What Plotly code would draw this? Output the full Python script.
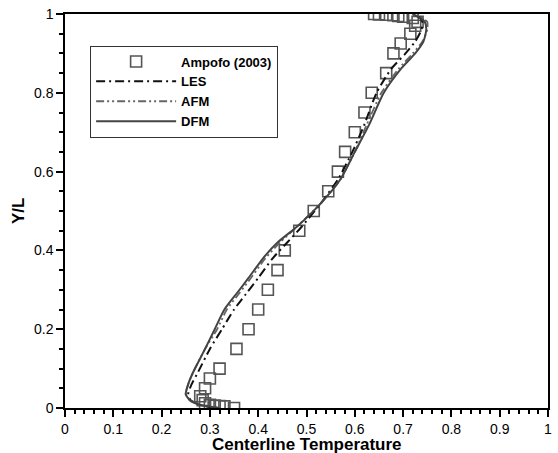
import plotly.graph_objects as go

# Experimental centerline temperature profile (Ampofo 2003)
amp_t = [0.35, 0.33, 0.32, 0.31, 0.30, 0.29, 0.285, 0.28, 0.29, 0.30, 0.32, 0.355, 0.38,
         0.40, 0.42, 0.44, 0.455, 0.485, 0.515, 0.545, 0.565, 0.58, 0.60, 0.62, 0.635,
         0.665, 0.68, 0.695, 0.715, 0.725, 0.73, 0.72, 0.70, 0.69, 0.68, 0.665, 0.65, 0.64]
amp_y = [0.0, 0.004, 0.005, 0.006, 0.008, 0.012, 0.02, 0.03, 0.05, 0.075, 0.10, 0.15, 0.20,
         0.25, 0.30, 0.35, 0.40, 0.45, 0.50, 0.55, 0.60, 0.65, 0.70, 0.75, 0.80,
         0.85, 0.90, 0.925, 0.95, 0.97, 0.98, 0.99, 0.993, 0.995, 0.997, 0.998, 0.999, 1.0]

# Model predictions
les_t = [0.31, 0.28, 0.26, 0.255, 0.262, 0.275, 0.30, 0.325, 0.35, 0.375, 0.40, 0.43, 0.46,
         0.49, 0.53, 0.565, 0.595, 0.62, 0.645, 0.675, 0.705, 0.725, 0.738, 0.74, 0.735, 0.72]
les_y = [0.0, 0.008, 0.02, 0.035, 0.06, 0.09, 0.15, 0.20, 0.25, 0.29, 0.33, 0.38, 0.42,
         0.46, 0.52, 0.58, 0.65, 0.72, 0.80, 0.86, 0.90, 0.93, 0.96, 0.98, 0.99, 1.0]

afm_t = [0.32, 0.28, 0.26, 0.25, 0.255, 0.265, 0.29, 0.315, 0.335, 0.36, 0.385, 0.415, 0.445,
         0.48, 0.53, 0.57, 0.60, 0.625, 0.655, 0.69, 0.72, 0.74, 0.75, 0.75, 0.74, 0.725]
afm_y = [0.0, 0.008, 0.02, 0.035, 0.06, 0.09, 0.15, 0.20, 0.25, 0.29, 0.33, 0.38, 0.42,
         0.46, 0.52, 0.58, 0.65, 0.72, 0.80, 0.86, 0.90, 0.93, 0.96, 0.98, 0.99, 1.0]

dfm_t = [0.32, 0.28, 0.258, 0.25, 0.255, 0.265, 0.29, 0.31, 0.33, 0.355, 0.38, 0.41, 0.44,
         0.48, 0.53, 0.57, 0.60, 0.63, 0.66, 0.695, 0.725, 0.742, 0.748, 0.745, 0.735, 0.72]
dfm_y = [0.0, 0.008, 0.02, 0.035, 0.06, 0.09, 0.15, 0.20, 0.25, 0.29, 0.33, 0.38, 0.42,
         0.46, 0.52, 0.58, 0.65, 0.72, 0.80, 0.86, 0.90, 0.93, 0.96, 0.98, 0.99, 1.0]

FONT = "Arial, Liberation Sans"

fig = go.Figure()
fig.add_trace(go.Scatter(x=amp_t, y=amp_y, mode="markers", name="<b>Ampofo (2003)</b>",
                         marker=dict(symbol="square-open", size=11, color="#555555",
                                     line=dict(width=1.6, color="#555555"))))
fig.add_trace(go.Scatter(x=les_t, y=les_y, mode="lines", name="<b>LES</b>",
                         line=dict(color="#111111", width=2, dash="9px,4px,2px,4px",
                                   shape="spline", smoothing=0.6)))
fig.add_trace(go.Scatter(x=afm_t, y=afm_y, mode="lines", name="<b>AFM</b>",
                         line=dict(color="#666666", width=1.8,
                                   dash="8px,3px,2px,3px,2px,3px",
                                   shape="spline", smoothing=0.6)))
fig.add_trace(go.Scatter(x=dfm_t, y=dfm_y, mode="lines", name="<b>DFM</b>",
                         line=dict(color="#444444", width=2,
                                   shape="spline", smoothing=0.6)))

axis_common = dict(showline=True, linecolor="black", linewidth=1.5, mirror=True,
                   ticks="outside", ticklen=7, tickwidth=1.5, tickcolor="black",
                   showgrid=False, zeroline=False, automargin=False,
                   tickfont=dict(family=FONT, size=14, color="black"))

fig.update_xaxes(range=[0, 1], dtick=0.1, tick0=0,
                 minor=dict(dtick=0.02, ticks="outside", ticklen=4, tickcolor="black"),
                 **axis_common)
fig.update_yaxes(range=[0, 1], dtick=0.2, tick0=0,
                 minor=dict(dtick=0.05, ticks="outside", ticklen=4, tickcolor="black"),
                 **axis_common)

# axis titles
fig.add_annotation(text="<b>Centerline Temperature</b>", xref="paper", yref="paper",
                   x=0.5, y=0, xanchor="center", yanchor="top", yshift=-25,
                   showarrow=False, font=dict(family=FONT, size=17, color="black"))
fig.add_annotation(text="<b>Y/L</b>", xref="paper", yref="paper",
                   x=0, y=0.5, xanchor="center", yanchor="middle", xshift=-47,
                   textangle=-90, showarrow=False,
                   font=dict(family=FONT, size=17, color="black"))

fig.update_layout(
    width=558, height=453,
    margin=dict(l=65, r=10, t=14, b=45, autoexpand=False),
    paper_bgcolor="white", plot_bgcolor="white",
    showlegend=True,
    legend=dict(x=0.052, y=0.92, xanchor="left", yanchor="top",
                bgcolor="white", bordercolor="#333333", borderwidth=1,
                font=dict(family=FONT, size=13, color="black"),
                tracegroupgap=0, itemwidth=80),
)

fig.write_html("out.html")
